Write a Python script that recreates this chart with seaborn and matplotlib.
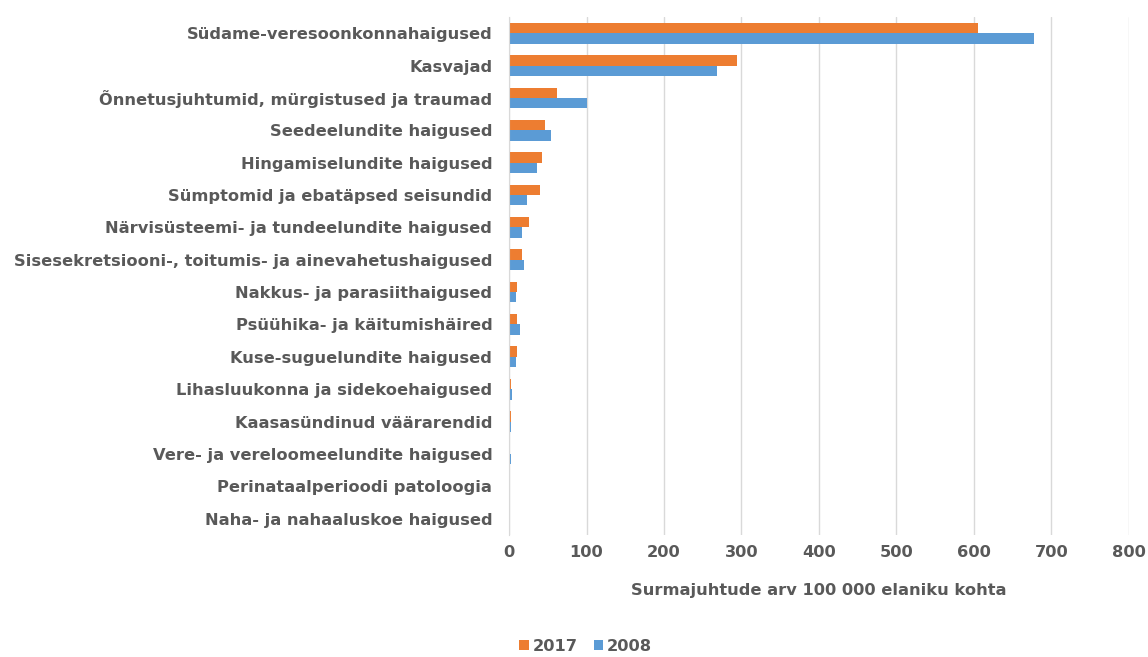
import numpy as np
import matplotlib
matplotlib.use("Agg")
import matplotlib.pyplot as plt
import pandas as pd
import seaborn as sns

categories = [
    "Südame-veresoonkonnahaigused",
    "Kasvajad",
    "Õnnetusjuhtumid, mürgistused ja traumad",
    "Seedeelundite haigused",
    "Hingamiselundite haigused",
    "Sümptomid ja ebatäpsed seisundid",
    "Närvisüsteemi- ja tundeelundite haigused",
    "Sisesekretsiooni-, toitumis- ja ainevahetushaigused",
    "Nakkus- ja parasiithaigused",
    "Psüühika- ja käitumishäired",
    "Kuse-suguelundite haigused",
    "Lihasluukonna ja sidekoehaigused",
    "Kaasasündinud väärarendid",
    "Vere- ja vereloomeelundite haigused",
    "Perinataalperioodi patoloogia",
    "Naha- ja nahaaluskoe haigused",
]
v2017 = [605, 294, 62, 46, 42, 40, 26, 17, 10, 10, 10, 3, 2, 1.5, 1, 1]
v2008 = [678, 268, 101, 54, 36, 23, 17, 19, 9, 14, 9, 4, 3, 2, 1.5, 1]
years = ["2017", "2008"]

df = pd.DataFrame({
    "kategooria": categories * 2,
    "aasta": [years[0]] * len(categories) + [years[1]] * len(categories),
    "väärtus": v2017 + v2008,
})

sns.set_style("white")
plt.rcParams['font.family'] = ['DejaVu Sans']

grey = "#595959"
fs = 11.7
fig = plt.figure(figsize=(11.48, 6.57), dpi=100)
ax = fig.add_axes([0.4434, 0.186, 0.540, 0.788])

sns.barplot(data=df, y="kategooria", x="väärtus", hue="aasta", order=categories,
            hue_order=years, palette={"2017": "#ED7D31", "2008": "#5B9BD5"},
            orient="h", width=0.64, gap=0, saturation=1, linewidth=0,
            ax=ax, legend=True)

ax.set_xlim(0, 800)
ax.set_xticks(np.arange(0, 801, 100))
ax.xaxis.grid(True, color="#D9D9D9", linewidth=1)
ax.set_axisbelow(True)
for s in ["top", "right", "bottom"]:
    ax.spines[s].set_visible(False)
ax.spines["left"].set_color("#D9D9D9")
ax.tick_params(axis="both", length=0, labelcolor=grey, labelsize=fs)
ax.tick_params(axis="y", pad=12)
ax.tick_params(axis="x", pad=7)
for t in ax.get_yticklabels() + ax.get_xticklabels():
    t.set_fontweight("bold")
ax.set_ylabel("")
ax.set_xlabel("Surmajuhtude arv 100 000 elaniku kohta", color=grey,
              fontsize=fs, fontweight="bold", labelpad=17)

handles, labels = ax.get_legend_handles_labels()
ax.get_legend().remove()
fig.legend(handles, labels, loc="center", bbox_to_anchor=(0.51, 0.016), ncol=2,
           frameon=False, handlelength=0.6, handleheight=0.6, handletextpad=0.2,
           columnspacing=1.0, prop={"weight": "bold", "size": fs},
           labelcolor=grey)

fig.savefig("out.png", dpi=100)
